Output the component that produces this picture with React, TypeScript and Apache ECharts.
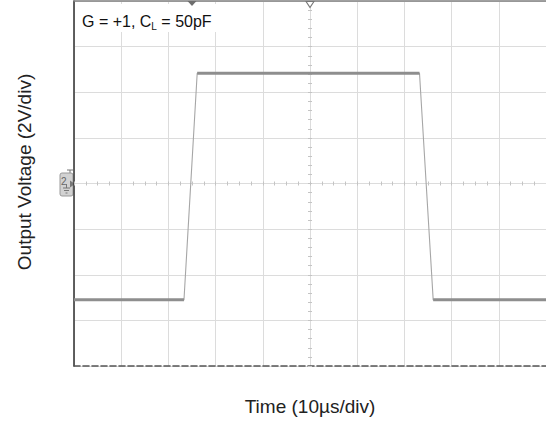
import React, { useEffect, useRef } from "react";
import * as echarts from "echarts";

// Waveform (time in µs, output in volts)
const timeUs = [0, 23.3, 26.1, 73.2, 76.1, 100];
const outputV = [-5.1, -5.1, 4.83, 4.83, -5.1, -5.1];
// Flat (settled) portions of the trace: index pairs into the arrays above
const levelSegments = [
  [0, 1],
  [2, 3],
  [4, 5],
];
// Axis ranges (10 µs/div, 2 V/div)
const timeRange = [0, 100];
const timeDiv = 10;
const timeMinorDiv = 2.5;
const voltRange = [-8, 8];
const voltDiv = 2;
const voltMinorDiv = 0.4;
// Scope markers
const triggerTimeUs = 25;
const centerTimeUs = 50;

const FONT = "'Liberation Sans', Arial, Helvetica, sans-serif";

export default function App() {
  const ref = useRef<HTMLDivElement>(null);
  useEffect(() => {
    if (!ref.current) return;
    const chart = echarts.init(ref.current, undefined, { renderer: "svg" });

    const hidden = { show: false };
    const centerTickX = (position: string) => ({
      type: "value",
      min: timeRange[0],
      max: timeRange[1],
      interval: timeMinorDiv,
      position,
      offset: -183,
      axisLine: { show: false, onZero: false },
      axisTick: { show: true, length: 2.5, lineStyle: { color: "#c4c4c4", width: 1 } },
      axisLabel: hidden,
      splitLine: hidden,
    });
    const centerTickY = (position: string) => ({
      type: "value",
      min: voltRange[0],
      max: voltRange[1],
      interval: voltMinorDiv,
      position,
      offset: -237,
      axisLine: { show: false, onZero: false },
      axisTick: { show: true, length: 3, lineStyle: { color: "#c4c4c4", width: 1 } },
      axisLabel: hidden,
      splitLine: hidden,
    });

    const traceData = timeUs.map((t, i) => [t, outputV[i]]);
    const levelSeries = levelSegments.map(([a, b]) => ({
      type: "line",
      xAxisIndex: 0,
      yAxisIndex: 0,
      symbol: "none",
      silent: true,
      z: 4,
      lineStyle: { color: "#8e8e8e", width: 3 },
      data: [
        [timeUs[a], outputV[a]],
        [timeUs[b], outputV[b]],
      ],
    }));

    const option: any = {
      animation: false,
      backgroundColor: "#ffffff",
      title: {
        text: "{a|G = +1, C}{s|L}{a| = 50pF}",
        left: 75,
        top: 2,
        padding: [9, 5, 1, 7],
        backgroundColor: "#ffffff",
        textStyle: {
          fontWeight: "normal",
          rich: {
            a: { fontSize: 16, lineHeight: 20, fontFamily: FONT, fontWeight: "normal", color: "#111" },
            s: {
              fontSize: 10,
              lineHeight: 14,
              verticalAlign: "bottom",
              fontFamily: FONT,
              fontWeight: "normal",
              color: "#111",
            },
          },
        },
      },
      grid: { left: 74, right: -2, top: 1, bottom: 54, containLabel: false },
      xAxis: [
        {
          type: "value",
          min: timeRange[0],
          max: timeRange[1],
          interval: timeDiv,
          position: "bottom",
          axisLine: { onZero: false, lineStyle: { color: "#555", width: 1.6, type: [6, 3] } },
          axisTick: hidden,
          axisLabel: hidden,
          splitLine: { show: true, lineStyle: { color: "#dcdcdc", width: 1 } },
          name: "Time (10µs/div)",
          nameLocation: "middle",
          nameGap: 31,
          nameTextStyle: { fontSize: 19, fontFamily: FONT, color: "#222" },
        },
        {
          type: "value",
          min: timeRange[0],
          max: timeRange[1],
          position: "top",
          axisLine: { onZero: false, lineStyle: { color: "#808080", width: 1.5 } },
          axisTick: hidden,
          axisLabel: hidden,
          splitLine: hidden,
        },
        centerTickX("top"),
        centerTickX("bottom"),
      ],
      yAxis: [
        {
          type: "value",
          min: voltRange[0],
          max: voltRange[1],
          interval: voltDiv,
          position: "left",
          axisLine: { onZero: false, lineStyle: { color: "#3a3a3a", width: 1.6 } },
          axisTick: hidden,
          axisLabel: hidden,
          splitLine: { show: true, lineStyle: { color: "#dcdcdc", width: 1 } },
          name: "Output Voltage (2V/div)",
          nameLocation: "middle",
          nameGap: 40,
          nameTextStyle: { fontSize: 19, fontFamily: FONT, color: "#222", padding: [0, 0, 0, 23] },
        },
        centerTickY("left"),
        centerTickY("right"),
      ],
      series: [
        {
          type: "line",
          xAxisIndex: 0,
          yAxisIndex: 0,
          symbol: "none",
          silent: true,
          z: 3,
          lineStyle: { color: "#a6a6a6", width: 1.1 },
          data: traceData,
          markPoint: {
            silent: true,
            z: 8,
            symbol: "triangle",
            label: { show: false },
            data: [
              {
                coord: [triggerTimeUs, voltRange[1]],
                symbolRotate: 180,
                symbolSize: [9, 5],
                symbolOffset: [0, 2.5],
                itemStyle: { color: "#6e6e6e" },
              },
              {
                coord: [centerTimeUs, voltRange[1]],
                symbolRotate: 180,
                symbolSize: [8, 6],
                symbolOffset: [0, 3.5],
                itemStyle: { color: "#ffffff", borderColor: "#777", borderWidth: 1 },
              },
            ],
          },
        },
        ...levelSeries,
      ],
      graphic: [
        {
          type: "group",
          z: 10,
          silent: true,
          children: [
            { type: "line", shape: { x1: 67, y1: 170, x2: 73, y2: 170 }, style: { stroke: "#777", lineWidth: 1 } },
            { type: "line", shape: { x1: 70, y1: 170, x2: 70, y2: 173 }, style: { stroke: "#777", lineWidth: 1 } },
            {
              type: "rect",
              shape: { x: 60, y: 173, width: 13, height: 23, r: 2 },
              style: { fill: "#d2d2d2", stroke: "#9a9a9a", lineWidth: 1 },
            },
            {
              type: "text",
              x: 61,
              y: 176,
              style: { text: "2", font: `10px ${FONT}`, fill: "#666" },
            },
            { type: "line", shape: { x1: 66.5, y1: 184, x2: 66.5, y2: 188 }, style: { stroke: "#777", lineWidth: 1 } },
            { type: "line", shape: { x1: 63, y1: 188, x2: 70, y2: 188 }, style: { stroke: "#777", lineWidth: 1 } },
            { type: "line", shape: { x1: 64, y1: 190.5, x2: 69, y2: 190.5 }, style: { stroke: "#777", lineWidth: 1 } },
            { type: "line", shape: { x1: 65.5, y1: 193, x2: 67.5, y2: 193 }, style: { stroke: "#777", lineWidth: 1 } },
            { type: "polygon", shape: { points: [[70, 180.5], [75, 184], [70, 187.5]] }, style: { fill: "#777" } },
          ],
        },
      ],
    };

    chart.setOption(option);
    return () => chart.dispose();
  }, []);

  return (
    <div
      ref={ref}
      style={{ position: "absolute", left: 0, top: 0, width: 546, height: 421, background: "#fff" }}
    />
  );
}
